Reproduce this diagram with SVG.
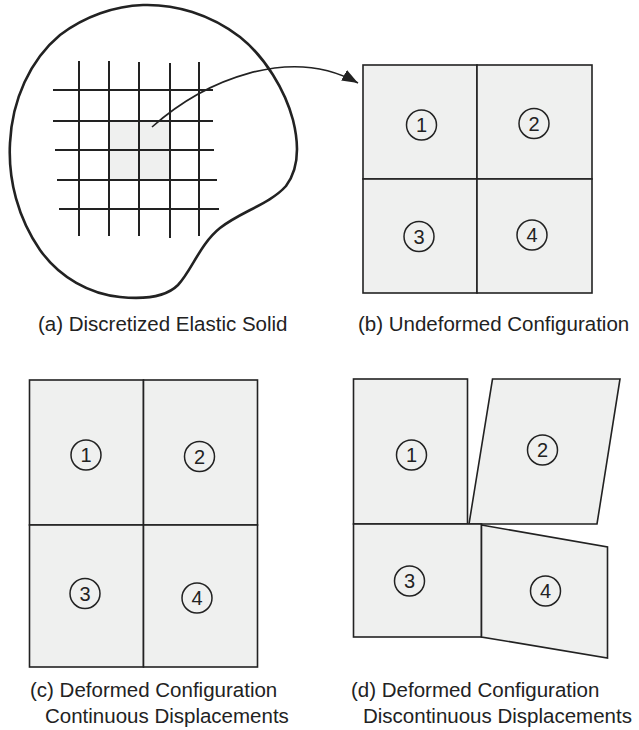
<svg xmlns="http://www.w3.org/2000/svg" width="639" height="730" viewBox="0 0 639 730">
<style>
.el{fill:#eff0ef;stroke:#222;stroke-width:1.6}
.ring{fill:none;stroke:#222;stroke-width:1.5}
.num{font-family:"Liberation Sans",Arial,sans-serif;font-size:20px;fill:#222;text-anchor:middle}
.lbl{font-family:"Liberation Sans",Arial,sans-serif;font-size:20.5px;fill:#222}
.grid line{stroke:#222;stroke-width:2}
</style>
<defs>
<marker id="ah" markerUnits="userSpaceOnUse" markerWidth="18" markerHeight="12" refX="16" refY="6" orient="auto">
<path d="M0,0 L16,6 L0,12 Z" fill="#222"/>
</marker>
</defs>
<rect width="639" height="730" fill="#fff"/>
<g id="solid">
<path d="M143,5 C175,4 210,14 240,37 C265,57 285,90 293,120 C300,148 298,170 286,186 C270,204 240,212 220,228 C200,244 192,270 178,285 C165,298 140,299 120,297 C90,294 60,278 40,250 C18,218 8,180 10,143 C12,100 30,60 60,35 C85,16 115,6 143,5 Z" fill="none" stroke="#222" stroke-width="2.6"/>
<rect x="109" y="121" width="61" height="59" fill="#eff0ef"/>
<g class="grid">
<line x1="79" y1="61" x2="79" y2="236"/>
<line x1="109" y1="61" x2="109" y2="236"/>
<line x1="139" y1="62" x2="139" y2="236"/>
<line x1="170" y1="63" x2="170" y2="238"/>
<line x1="199" y1="62" x2="199" y2="236"/>
<line x1="53" y1="90" x2="213" y2="90"/>
<line x1="53" y1="121" x2="213" y2="121"/>
<line x1="55" y1="150" x2="214" y2="150"/>
<line x1="57" y1="180" x2="217" y2="180"/>
<line x1="59" y1="209" x2="219" y2="209"/>
</g>
</g>
<g id="connectors">
<path d="M152,127 C205,80 290,45 358,83" fill="none" stroke="#222" stroke-width="1.6" marker-end="url(#ah)"/>
</g>
<g id="b-e1"><rect class="el" x="363" y="65" width="114" height="114"/><circle class="ring" cx="421.5" cy="125" r="15"/><text class="num" x="421.5" y="132">1</text></g>
<g id="b-e2"><rect class="el" x="477" y="65" width="115" height="114"/><circle class="ring" cx="534" cy="123.5" r="15"/><text class="num" x="534" y="130.5">2</text></g>
<g id="b-e3"><rect class="el" x="363" y="179" width="114" height="114"/><circle class="ring" cx="419" cy="236.5" r="15"/><text class="num" x="419" y="243.5">3</text></g>
<g id="b-e4"><rect class="el" x="477" y="179" width="115" height="114"/><circle class="ring" cx="532" cy="235" r="15"/><text class="num" x="532" y="242">4</text></g>
<g id="c-e1"><rect class="el" x="29.5" y="380" width="114" height="145"/><circle class="ring" cx="86" cy="455" r="15"/><text class="num" x="86" y="462">1</text></g>
<g id="c-e2"><rect class="el" x="143.5" y="380" width="114" height="145"/><circle class="ring" cx="199.5" cy="456.5" r="15"/><text class="num" x="199.5" y="463.5">2</text></g>
<g id="c-e3"><rect class="el" x="29.5" y="525" width="114" height="142"/><circle class="ring" cx="85" cy="593.5" r="15"/><text class="num" x="85" y="600.5">3</text></g>
<g id="c-e4"><rect class="el" x="143.5" y="525" width="114" height="142"/><circle class="ring" cx="197" cy="598" r="15"/><text class="num" x="197" y="605">4</text></g>
<g id="d-e1"><rect class="el" x="353.5" y="379" width="114" height="145"/><circle class="ring" cx="411.5" cy="455" r="15"/><text class="num" x="411.5" y="462">1</text></g>
<g id="d-e2"><polygon class="el" points="492.5,379 620,379 597,524 469,524"/><circle class="ring" cx="542.5" cy="450" r="15"/><text class="num" x="542.5" y="457">2</text></g>
<g id="d-e3"><rect class="el" x="353.5" y="524" width="128" height="113"/><circle class="ring" cx="409.5" cy="581" r="15"/><text class="num" x="409.5" y="588">3</text></g>
<g id="d-e4"><polygon class="el" points="481.5,525 607.5,547 607.5,658 481.5,637"/><circle class="ring" cx="545.5" cy="591" r="15"/><text class="num" x="545.5" y="598">4</text></g>
<g id="labels">
<text class="lbl" x="38" y="331">(a) Discretized Elastic Solid</text>
<text class="lbl" x="358" y="331">(b) Undeformed Configuration</text>
<text class="lbl" x="30" y="697">(c) Deformed Configuration</text>
<text class="lbl" x="45" y="723">Continuous Displacements</text>
<text class="lbl" x="351" y="697">(d) Deformed Configuration</text>
<text class="lbl" x="363" y="723">Discontinuous Displacements</text>
</g>
</svg>
